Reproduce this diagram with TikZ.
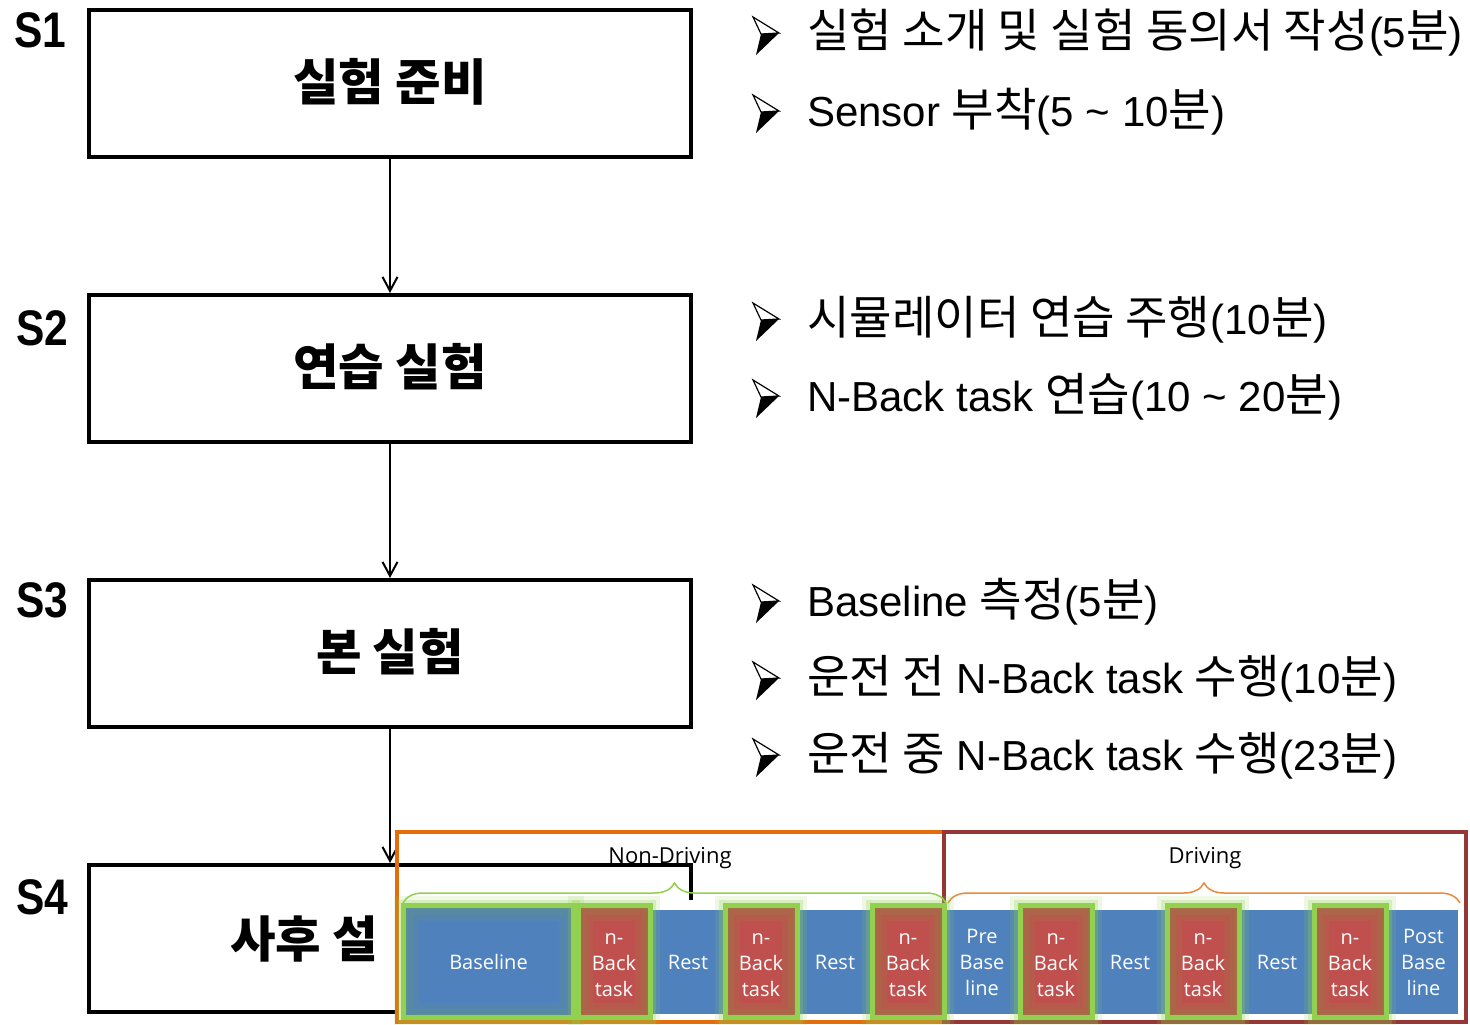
\documentclass[tikz,border=0pt]{standalone}
\usepackage{fontspec}
\usepackage{graphicx}
\setmainfont{Liberation Sans}
\newfontfamily\kr[Scale=1.1]{Noto Sans CJK KR}
\newfontfamily\seg{Open Sans}
\usetikzlibrary{arrows.meta,decorations.pathreplacing}
\definecolor{barblue}{RGB}{79,129,189}
\definecolor{barred}{RGB}{192,80,77}
\definecolor{glowgreen}{RGB}{146,208,80}
\definecolor{frameorange}{RGB}{228,108,10}
\definecolor{framered}{RGB}{149,55,53}
\definecolor{edgeolive}{RGB}{150,130,70}
\definecolor{edgeteal}{RGB}{100,150,130}
\newcommand\narrow[1]{\scalebox{.85}[1]{#1}}

\begin{document}
\begin{tikzpicture}[x=1pt,y=-1pt,
every node/.style={inner sep=0pt},
stepbox/.style={draw,line width=4pt,minimum width=602pt,minimum height=147pt},
steptext/.style={font=\kr\bfseries\fontsize{45}{45}\selectfont},
slabel/.style={font=\bfseries\fontsize{50}{50}\selectfont},
item/.style={anchor=base west,font=\fontsize{42}{42}\selectfont},
flow/.style={line width=1.5pt,-{Straight Barb[length=14pt,width=15pt,line width=2pt]}},
bul/.pic={
  \fill (-5,1) -- (13,0) -- (-10,22) -- cycle;
  \draw[line width=1.2pt,fill=white,line join=miter] (-13,-16) -- (13,0) -- (-5,1) -- cycle;},
frame/.style={line width=4pt,minimum height=190pt},
phase/.style={font=\seg\fontsize{22}{22}\selectfont},
tl/.style={minimum height=104pt,fill=barblue,text=white,align=center,
  font=\seg\fontsize{20}{26}\selectfont},
gbox/.style={tl,minimum height=112pt,draw=glowgreen,line width=5pt,
  preaction={draw=glowgreen,draw opacity=.15,line width=20pt},
  preaction={draw=glowgreen,draw opacity=.25,line width=12pt},
  path picture={
    \foreach \w/\o in {30/.22,18/.28,8/.35}
      \draw[#1,line width=\w pt,draw opacity=\o]
        (path picture bounding box.south west) rectangle (path picture bounding box.north east);}},
brc/.style={line width=1.5pt,decorate,decoration={brace,amplitude=20pt}}]
\useasboundingbox (0,0) rectangle (1470,1025);

% steps
\node[stepbox] (s1) at (390,83.5) {};
\node[stepbox] (s2) at (390,368.5) {};
\node[stepbox] (s3) at (390,653.5) {};
\node[stepbox] (s4) at (390,938.5) {};
\node[steptext] (s1t) at (390,82) {실험 준비};
\node[steptext] (s2t) at (390,367) {연습 실험};
\node[steptext] (s3t) at (390,652) {본 실험};
\node[steptext,anchor=west] (s4t) at (230,939) {사후 설};
\node[slabel] (l1) at (40,30) {\narrow{S1}};
\node[slabel] (l2) at (42,328) {\narrow{S2}};
\node[slabel] (l3) at (42,600) {\narrow{S3}};
\node[slabel] (l4) at (42,897) {\narrow{S4}};
\draw[flow] (s1) -- (s2);
\draw[flow] (s2) -- (s3);
\draw[flow] (s3) -- (s4);

% notes
\pic at (766,33) {bul};
\pic at (766,111) {bul};
\pic at (766,319) {bul};
\pic at (766,396) {bul};
\pic at (766,601) {bul};
\pic at (766,678) {bul};
\pic at (766,755) {bul};
\node[item] (n1) at (807,48) {{\kr 실험 소개 및 실험 동의서 작성}(5{\kr 분})};
\node[item] (n2) at (807,126) {Sensor {\kr 부착}(5 \textasciitilde{} 10{\kr 분})};
\node[item] (n3) at (807,334) {{\kr 시뮬레이터 연습 주행}(10{\kr 분})};
\node[item] (n4) at (807,411) {N-Back task {\kr 연습}(10 \textasciitilde{} 20{\kr 분})};
\node[item] (n5) at (807,616) {Baseline {\kr 측정}(5{\kr 분})};
\node[item] (n6) at (807,693) {{\kr 운전 전} N-Back task {\kr 수행}(10{\kr 분})};
\node[item] (n7) at (807,770) {{\kr 운전 중} N-Back task {\kr 수행}(23{\kr 분})};

% timeline
\fill[white] (399,900) rectangle (1462,1021);
\node[frame,draw=frameorange,minimum width=547pt] (nonfr) at (670.5,927) {};
\node[frame,draw=framered,minimum width=522pt] (drfr) at (1205,927) {};
\node[phase] (nonlab) at (670,858) {Non-Driving};
\node[phase] (drlab) at (1205,858) {Driving};
\coordinate (b1l) at (403,903);
\coordinate (b1r) at (946,903);
\coordinate (b2l) at (948,903);
\coordinate (b2r) at (1460,903);
\draw[brc,glowgreen] (b1l) -- (b1r);
\draw[brc,frameorange!80] (b2l) -- (b2r);

\node[tl,minimum width=71pt] (r1) at (688,962) {Rest};
\node[tl,minimum width=71pt] (r2) at (835,962) {Rest};
\node[tl,minimum width=71pt] (pre) at (982,962) {Pre\\Base\\line};
\node[tl,minimum width=71pt] (r3) at (1130,962) {Rest};
\node[tl,minimum width=71pt] (r4) at (1277,962) {Rest};
\node[tl,minimum width=69pt] (post) at (1423.5,962) {Post\\Base\\line};
\node[gbox=edgeteal,minimum width=170pt] (base) at (488.5,961.5) {Baseline};
\node[gbox=edgeolive,fill=barred,minimum width=72pt] (nb1) at (614,961.5) {\strut n-\\Back\\task};
\node[gbox=edgeolive,fill=barred,minimum width=72pt] (nb2) at (761,961.5) {\strut n-\\Back\\task};
\node[gbox=edgeolive,fill=barred,minimum width=72pt] (nb3) at (908,961.5) {\strut n-\\Back\\task};
\node[gbox=edgeolive,fill=barred,minimum width=72pt] (nb4) at (1056,961.5) {\strut n-\\Back\\task};
\node[gbox=edgeolive,fill=barred,minimum width=72pt] (nb5) at (1203,961.5) {\strut n-\\Back\\task};
\node[gbox=edgeolive,fill=barred,minimum width=72pt] (nb6) at (1350,961.5) {\strut n-\\Back\\task};
\end{tikzpicture}
\end{document}
